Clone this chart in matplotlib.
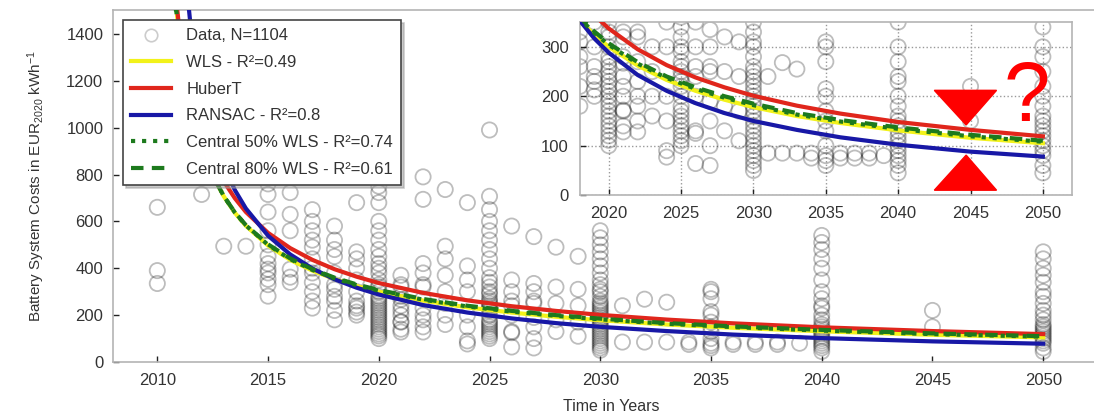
import matplotlib
matplotlib.use("Agg")
import matplotlib.pyplot as plt
from matplotlib.lines import Line2D
from matplotlib.patches import Polygon

plt.rcParams["font.family"] = ["Liberation Sans", "DejaVu Sans"]
plt.rcParams["mathtext.default"] = "regular"

# observed battery system costs (EUR2020/kWh), grouped by year
obs_years = [2010, 2012, 2013, 2014, 2015, 2016, 2017, 2018, 2019, 2020,
             2021, 2022, 2023, 2024, 2025, 2026, 2027, 2028, 2029, 2030,
             2031, 2032, 2033, 2034, 2035, 2036, 2037, 2038, 2039, 2040,
             2045, 2050]
obs_costs = [
    [660, 390, 335],
    [715],
    [494],
    [494],
    [760, 715, 640, 560, 500, 451, 420, 396, 380, 353, 330, 281],
    [723, 630, 560, 396, 362, 340],
    [650, 600, 560, 520, 490, 440, 400, 380, 340, 300, 260, 230],
    [580, 520, 480, 450, 380, 330, 310, 280, 260, 220, 180],
    [680, 470, 440, 400, 350, 300, 260, 240, 230, 213, 200],
    [750, 723, 680, 600, 560, 520, 480, 450, 420, 400, 380, 350, 330, 320,
     300, 280, 270, 260, 250, 240, 230, 220, 210, 200, 190, 180, 170, 160,
     150, 140, 130, 120, 111, 100],
    [370, 330, 320, 280, 267, 240, 220, 200, 172, 170, 140, 128],
    [790, 694, 420, 380, 330, 320, 270, 230, 200, 180, 150, 128],
    [736, 494, 440, 370, 300, 250, 200, 160],
    [680, 410, 350, 300, 200, 150, 90, 77],
    [990, 707, 650, 600, 560, 520, 480, 440, 400, 360, 340, 320, 300, 290,
     270, 260, 250, 240, 230, 220, 200, 180, 170, 160, 150, 140, 130, 120,
     110, 100],
    [580, 350, 300, 260, 240, 200, 130, 125, 64],
    [535, 335, 300, 260, 250, 190, 150, 100, 60],
    [490, 320, 250, 180, 130],
    [451, 310, 240, 170, 110],
    [560, 530, 500, 470, 440, 410, 380, 350, 330, 310, 300, 280, 260, 250,
     240, 230, 220, 210, 200, 190, 180, 170, 160, 150, 140, 130, 120, 110,
     100, 90, 80, 70, 60, 50],
    [240, 85],
    [268, 85],
    [255, 85],
    [85, 75],
    [310, 300, 270, 215, 200, 170, 150, 130, 100, 80, 70, 60],
    [85, 75],
    [85, 75],
    [85, 75],
    [80],
    [540, 510, 480, 440, 400, 350, 300, 270, 240, 230, 200, 180, 160, 150,
     140, 130, 120, 110, 100, 90, 80, 70, 60, 45],
    [220, 150],
    [470, 440, 400, 370, 340, 300, 280, 250, 220, 200, 180, 160, 150, 140,
     130, 120, 110, 100, 90, 80, 60, 45],
]

# fitted curves
fit_years = [2010.0, 2010.5, 2011.0, 2011.5, 2012.0, 2012.5, 2013.0, 2013.5,
             2014, 2015, 2016, 2017, 2018, 2019, 2020, 2022, 2024, 2026,
             2028, 2030, 2033, 2036, 2040, 2045, 2050]
wls = [3225, 1878, 1369, 1093, 919, 797, 707, 637, 581, 497, 436, 390, 354,
       324, 300, 262, 233, 211, 193, 178, 160, 146, 131, 116, 105]
huber = [2828, 1858, 1415, 1158, 987, 864, 771, 699, 640, 551, 486, 436, 396,
         364, 337, 295, 263, 238, 218, 201, 181, 165, 148, 132, 119]
ransac = [5520, 2817, 1901, 1438, 1159, 971, 836, 734, 655, 539, 459, 399,
          353, 317, 288, 243, 211, 186, 166, 150, 132, 117, 102, 88, 78]
central50 = [3165, 1855, 1358, 1088, 917, 797, 708, 638, 583, 500, 439, 393,
             357, 328, 304, 266, 237, 215, 197, 182, 163, 149, 134, 119, 108]
central80 = [3106, 1833, 1347, 1082, 914, 796, 708, 639, 584, 502, 442, 396,
             360, 331, 307, 269, 240, 218, 200, 185, 166, 152, 137, 122, 110]

YELLOW = "#f2f21a"
RED = "#e0261c"
BLUE = "#1818a6"
GREEN = "#1d7a1d"
TXT = "#333333"
SPINE = "#b4b4b4"

xs, ys = [], []
for yr, vals in zip(obs_years, obs_costs):
    xs += [yr] * len(vals)
    ys += vals


def draw(ax, lw=3.0):
    ax.scatter(xs, ys, s=120, facecolors="none", edgecolors="black",
               linewidths=1.3, alpha=0.26, zorder=1)
    ax.plot(fit_years, wls, color=YELLOW, lw=lw, zorder=3)
    ax.plot(fit_years, huber, color=RED, lw=lw, zorder=3)
    ax.plot(fit_years, ransac, color=BLUE, lw=lw, zorder=3)
    ax.plot(fit_years, central50, color=GREEN, lw=lw, ls=":", zorder=3)
    ax.plot(fit_years, central80, color=GREEN, lw=lw, ls=(0, (3, 2)), zorder=3)


def style(ax, xpad, ypad):
    for s in ax.spines.values():
        s.set_color(SPINE)
        s.set_linewidth(1.2)
    ax.tick_params(direction="in", length=4, width=1, colors="#222222",
                   labelcolor=TXT, labelsize=12)
    ax.tick_params(axis="x", pad=xpad)
    ax.tick_params(axis="y", pad=ypad)


fig = plt.figure(figsize=(10.94, 4.17), dpi=100)
ax = fig.add_axes([0.1033, 0.1319, 0.911, 0.843])
draw(ax)
ax.set_xlim(2008, 2053)
ax.set_ylim(0, 1500)
ax.set_xticks([2010, 2015, 2020, 2025, 2030, 2035, 2040, 2045, 2050])
ax.set_yticks([0, 200, 400, 600, 800, 1000, 1200, 1400])
style(ax, 8, 7)
ax.set_xlabel("Time in Years", fontsize=11.5, color=TXT)
ax.xaxis.set_label_coords(0.5, -0.104)
ax.set_ylabel("Battery System Costs in EUR$_{2020}$ kWh$^{-1}$",
              fontsize=11, color=TXT)
ax.yaxis.set_label_coords(-0.066, 0.5)

handles = [
    Line2D([], [], ls="none", marker="o", markersize=9, markerfacecolor="none",
           markeredgecolor="#cccccc", markeredgewidth=1.2),
    Line2D([], [], color=YELLOW, lw=3),
    Line2D([], [], color=RED, lw=3),
    Line2D([], [], color=BLUE, lw=3),
    Line2D([], [], color=GREEN, lw=3, ls=":"),
    Line2D([], [], color=GREEN, lw=3, ls=(0, (3, 2))),
]
labels = ["Data, N=1104", "WLS - R²=0.49", "HuberT", "RANSAC - R²=0.8",
          "Central 50% WLS - R²=0.74", "Central 80% WLS - R²=0.61"]
leg = ax.legend(handles, labels, loc="upper left",
                bbox_to_anchor=(0.1124, 0.952), bbox_transform=fig.transFigure,
                fontsize=12, frameon=True, fancybox=False,
                shadow={"color": "0.6"}, framealpha=1, edgecolor="#444444",
                handlelength=2.4, handletextpad=0.9, labelspacing=0.70,
                borderpad=0.5, borderaxespad=0)
leg.get_frame().set_linewidth(1.2)
for t in leg.get_texts():
    t.set_color(TXT)
leg.set_zorder(10)

# zoomed inset
ins = fig.add_axes([0.530, 0.532, 0.4497, 0.415])
draw(ins)
ins.set_xlim(2018, 2052)
ins.set_ylim(0, 350)
ins.set_xticks([2020, 2025, 2030, 2035, 2040, 2045, 2050])
ins.set_yticks([0, 100, 200, 300])
ins.grid(True, ls=":", color="#999999", lw=1)
ins.set_axisbelow(True)
style(ins, 8, 8)

# red markers pointing at the gap between the fits
ins.add_patch(Polygon([[2042.5, 212], [2046.8, 212], [2044.7, 142]],
                      closed=True, color="#ff0000", zorder=6))
ins.add_patch(Polygon([[2042.5, 10], [2046.8, 10], [2044.7, 81]],
                      closed=True, color="#ff0000", zorder=6))
ins.text(2048.9, 194, "?", color="#ff0000", fontsize=60, ha="center",
         va="center", zorder=6)

fig.savefig("out.png", dpi=100)
